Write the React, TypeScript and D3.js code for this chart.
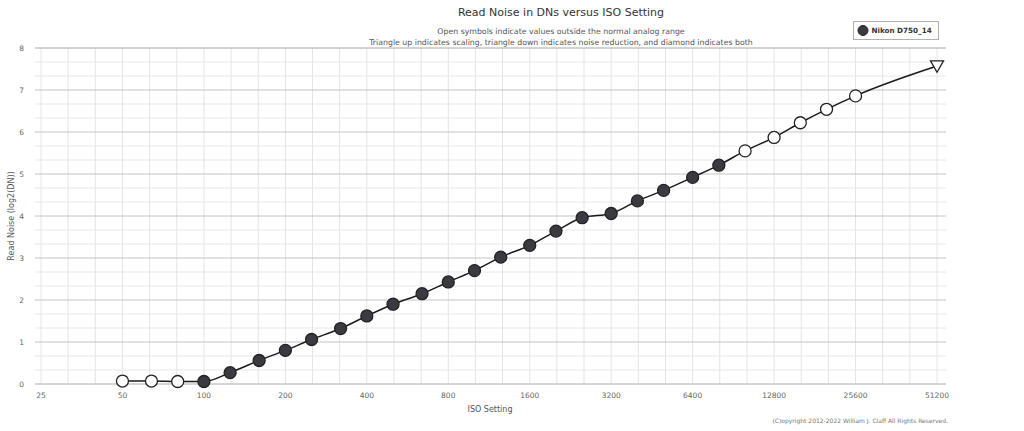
import React from "react";
import * as d3 from "d3";

const isoValues = [50, 64, 80, 100, 125, 160, 200, 250, 320, 400, 500, 640, 800, 1000, 1250, 1600, 2000, 2500, 3200, 4000, 5000, 6400, 8000, 10000, 12800, 16000, 20000, 25600, 51200];
const readNoise = [0.07, 0.07, 0.06, 0.06, 0.27, 0.56, 0.8, 1.06, 1.32, 1.62, 1.9, 2.15, 2.43, 2.7, 3.02, 3.3, 3.64, 3.96, 4.06, 4.36, 4.61, 4.92, 5.21, 5.55, 5.87, 6.22, 6.54, 6.86, 7.57];
// marker kind: 0 = filled circle, 1 = open circle, 2 = open triangle down
const markerKind = [1, 1, 1, 0, 0, 0, 0, 0, 0, 0, 0, 0, 0, 0, 0, 0, 0, 0, 0, 0, 0, 0, 0, 1, 1, 1, 1, 1, 2];
const xTickLabels = [25, 50, 100, 200, 400, 800, 1600, 3200, 6400, 12800, 25600, 51200];
const yTickLabels = [0, 1, 2, 3, 4, 5, 6, 7, 8];

const FONT = "'DejaVu Sans', 'Open Sans', sans-serif";

export default function App() {
  const W = 1024, H = 431;
  const plotLeft = 35, plotRight = 946, plotTop = 48, plotBottom = 384;
  const x = d3.scaleLog().base(2).domain([25, 51200]).range([41, 937]);
  const y = d3.scaleLinear().domain([0, 8]).range([plotBottom, plotTop]);

  const vGrid: number[] = [];
  for (let i = 0; i <= 33; i++) vGrid.push(25 * Math.pow(2, i / 3));
  const hMinor: number[] = [];
  for (let i = 0; i <= 24; i++) if (i % 3 !== 0) hMinor.push(i / 3);

  const pts = isoValues.map((v, i) => ({ iso: v, val: readNoise[i], kind: markerKind[i] }));
  const line = d3.line<{ iso: number; val: number }>()
    .x(d => x(d.iso))
    .y(d => y(d.val))
    .curve(d3.curveMonotoneX);

  const titleX = 561;

  return (
    <svg width={W} height={H} style={{ position: "absolute", left: 0, top: 0, background: "#fff" }} fontFamily={FONT}>
      <rect x={0} y={0} width={W} height={H} fill="#fff" />
      {vGrid.map((g, i) => (
        <line key={"v" + i} x1={x(g)} x2={x(g)} y1={plotTop} y2={plotBottom} stroke="#e4e4e4" strokeWidth={1} />
      ))}
      {hMinor.map((g, i) => (
        <line key={"hm" + i} x1={plotLeft} x2={plotRight} y1={y(g)} y2={y(g)} stroke="#e8e8e8" strokeWidth={1} />
      ))}
      {yTickLabels.map((t) => (
        <line key={"hM" + t} x1={plotLeft} x2={plotRight} y1={y(t)} y2={y(t)} stroke={t === 0 ? "#c8c8c8" : "#c4c4c4"} strokeWidth={t === 0 || t === 8 ? 1.5 : 1} />
      ))}
      {yTickLabels.map((t) => (
        <text key={"yl" + t} x={24} y={y(t)} dy="0.35em" textAnchor="end" fontSize={7.5} fill="#666">{t}</text>
      ))}
      {xTickLabels.map((t) => (
        <text key={"xl" + t} x={x(t)} y={395} dy="0.35em" textAnchor="middle" fontSize={7.5} fill="#666">{t}</text>
      ))}
      <text x={490} y={409} dy="0.35em" textAnchor="middle" fontSize={8} fill="#555">ISO Setting</text>
      <text transform={`translate(11,${(plotTop + plotBottom) / 2}) rotate(-90)`} textAnchor="middle" dy="0.35em" fontSize={8} fill="#555">Read Noise (log2(DN))</text>
      <text x={titleX} y={12} dy="0.35em" textAnchor="middle" fontSize={11} fill="#333">Read Noise in DNs versus ISO Setting</text>
      <text x={titleX} y={31} dy="0.35em" textAnchor="middle" fontSize={7.8} fill="#555">Open symbols indicate values outside the normal analog range</text>
      <text x={titleX} y={42} dy="0.35em" textAnchor="middle" fontSize={7.8} fill="#555">Triangle up indicates scaling, triangle down indicates noise reduction, and diamond indicates both</text>
      <text x={948} y={421} dy="0.35em" textAnchor="end" fontSize={6} fill="#777">(C)opyright 2012-2022 William J. Claff All Rights Reserved.</text>
      <rect x={853.5} y={21.5} width={85} height={18} fill="#fff" stroke="#b0b0b0" strokeWidth={1} />
      <circle cx={863} cy={30.5} r={5} fill="#3a3a40" stroke="#222" strokeWidth={1} />
      <text x={871.5} y={30.5} dy="0.35em" fontSize={7.2} fontWeight="bold" fill="#333">Nikon D750_14</text>
      <path d={line(pts) || ""} fill="none" stroke="#1a1a1a" strokeWidth={1.5} />
      {pts.map((p, i) => {
        const cx = x(p.iso), cy = y(p.val);
        if (p.kind === 2) {
          const s = 6.5;
          const d = `M${cx - s},${cy - s * 0.8} L${cx + s},${cy - s * 0.8} L${cx},${cy + s * 0.95} Z`;
          return <path key={"m" + i} d={d} fill="#fff" stroke="#222" strokeWidth={1.3} />;
        }
        return (
          <circle key={"m" + i} cx={cx} cy={cy} r={6}
            fill={p.kind === 0 ? "#3a3a40" : "#fff"} stroke="#222" strokeWidth={1.3} />
        );
      })}
    </svg>
  );
}
